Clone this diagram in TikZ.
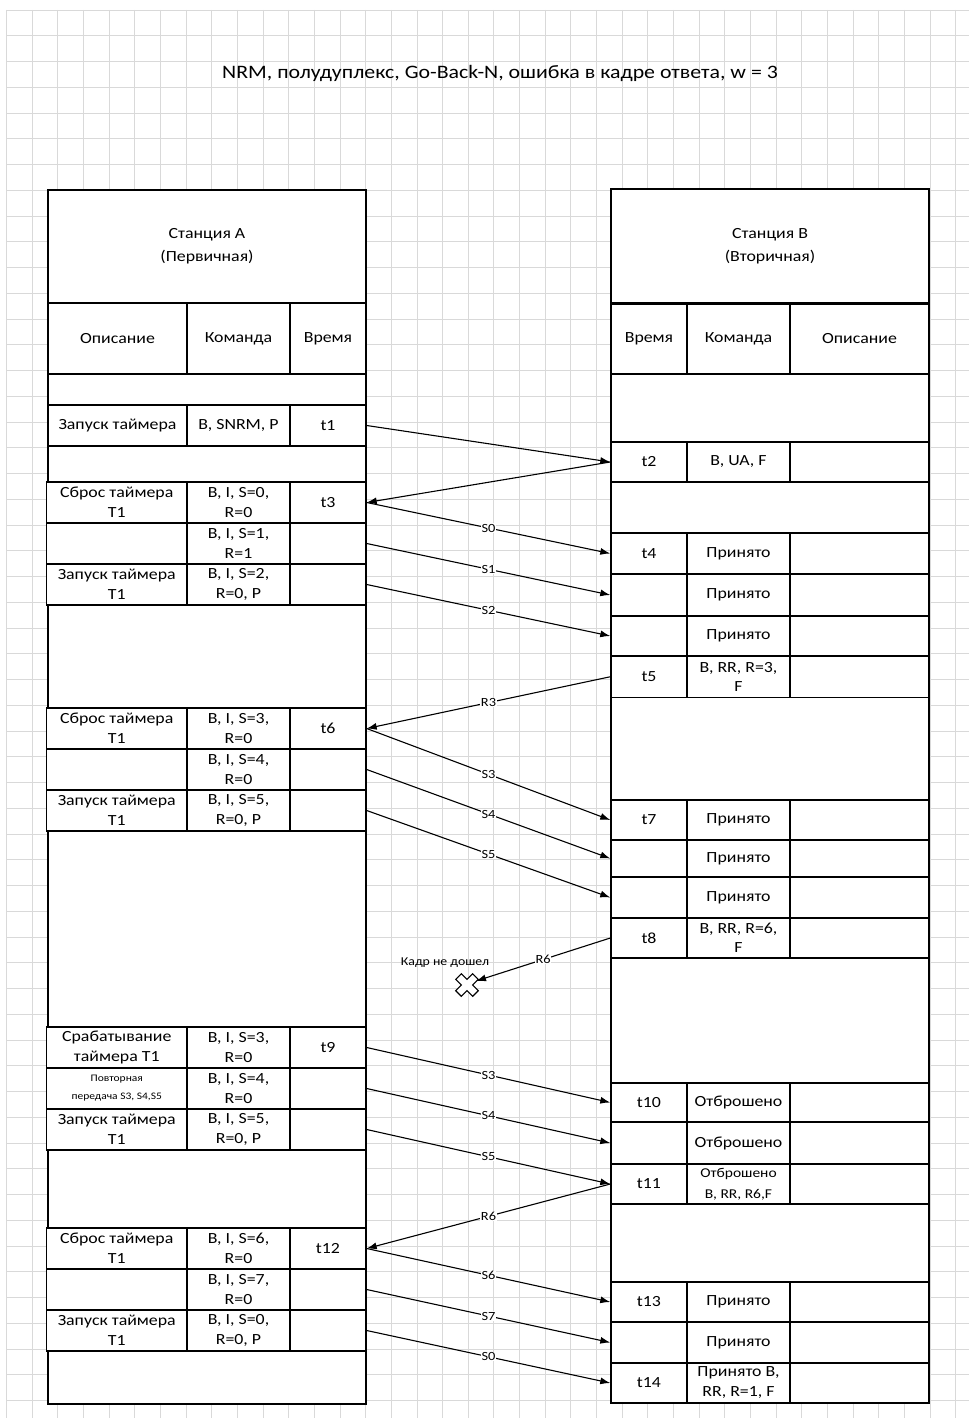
\documentclass[tikz,border=0pt]{standalone}
\usepackage{fontspec}
\setmainfont{Carlito}[FakeStretch=1.15]
\usetikzlibrary{arrows.meta}

\tikzset{
  gridline/.style={draw=black!15, line width=0.8pt},
  tablebox/.style={draw, fill=white, line width=1.4pt},
  cell/.style={draw, fill=white, line width=1.4pt, inner sep=0pt, align=center,
    minimum height=41pt, font=\fontsize{15.5}{20}\selectfont},
  dcell/.style={cell, minimum width=139pt},
  gdcell/.style={cell, minimum width=140.5pt},
  ccell/.style={cell, minimum width=103pt},
  tcell/.style={cell, minimum width=76pt},
  msg/.style={-{Latex[length=10pt,width=7pt]}, line width=1.1pt},
  tag/.style={fill=white, inner sep=0.6pt, font=\fontsize{12.5}{13}\selectfont},
}

\begin{document}
\begin{tikzpicture}[x=1pt, y=-1pt]
\useasboundingbox (0,0) rectangle (969,1420);

% background grid
\foreach \i in {0,...,37}
  \draw[gridline] ({6.5+25.65*\i},10) -- ({6.5+25.65*\i},1418);
\foreach \j in {0,...,54}
  \draw[gridline] (6.5,{10+25.75*\j}) -- (969,{10+25.75*\j});

\node[font=\fontsize{19}{21}\selectfont] (title) at (500,73)
  {NRM, полудуплекс, Go-Back-N, ошибка в кадре ответа, w = 3};

% station A
\draw[tablebox] (48,190) rectangle (366,1404);
\node[cell, minimum width=318pt, minimum height=113pt, font=\fontsize{15.5}{23}\selectfont]
  (stA) at (207,246.5) {Станция А\\(Первичная)};
\node[dcell, minimum height=71pt] (hdA) at (117.5,338.5) {Описание};
\node[ccell, minimum height=71pt] (hcA) at (238.5,338.5) {Команда};
\node[tcell, minimum height=71pt] (htA) at (328,338.5) {Время};

\node[dcell] (d1) at (117.5,425.5) {Запуск таймера};
\node[ccell] (c1) at (238.5,425.5) {B, SNRM, P};
\node[tcell] (t1) at (328,425.5) {t1};

\node[gdcell] (d3) at (116.75,502.5) {Сброс таймера\\T1};
\node[ccell] (c3) at (238.5,502.5) {B, I, S=0,\\R=0};
\node[tcell] (t3) at (328,502.5) {t3};
\node[gdcell] (d3b) at (116.75,543.5) {};
\node[ccell] (c3b) at (238.5,543.5) {B, I, S=1,\\R=1};
\node[tcell] (t3b) at (328,543.5) {};
\node[gdcell] (d3c) at (116.75,584.5) {Запуск таймера\\T1};
\node[ccell] (c3c) at (238.5,584.5) {B, I, S=2,\\R=0, P};
\node[tcell] (t3c) at (328,584.5) {};

\node[gdcell] (d6) at (116.75,728.5) {Сброс таймера\\T1};
\node[ccell] (c6) at (238.5,728.5) {B, I, S=3,\\R=0};
\node[tcell] (t6) at (328,728.5) {t6};
\node[gdcell] (d6b) at (116.75,769.5) {};
\node[ccell] (c6b) at (238.5,769.5) {B, I, S=4,\\R=0};
\node[tcell] (t6b) at (328,769.5) {};
\node[gdcell] (d6c) at (116.75,810.5) {Запуск таймера\\T1};
\node[ccell] (c6c) at (238.5,810.5) {B, I, S=5,\\R=0, P};
\node[tcell] (t6c) at (328,810.5) {};

\node[gdcell] (d9) at (116.75,1047.5) {Срабатывание\\таймера T1};
\node[ccell] (c9) at (238.5,1047.5) {B, I, S=3,\\R=0};
\node[tcell] (t9) at (328,1047.5) {t9};
\node[gdcell, font=\fontsize{10}{18}\selectfont] (d9b) at (116.75,1088.5) {Повторная\\передача S3, S4,S5};
\node[ccell] (c9b) at (238.5,1088.5) {B, I, S=4,\\R=0};
\node[tcell] (t9b) at (328,1088.5) {};
\node[gdcell] (d9c) at (116.75,1129.5) {Запуск таймера\\T1};
\node[ccell] (c9c) at (238.5,1129.5) {B, I, S=5,\\R=0, P};
\node[tcell] (t9c) at (328,1129.5) {};

\node[gdcell] (d12) at (116.75,1248.5) {Сброс таймера\\T1};
\node[ccell] (c12) at (238.5,1248.5) {B, I, S=6,\\R=0};
\node[tcell] (t12) at (328,1248.5) {t12};
\node[gdcell] (d12b) at (116.75,1289.5) {};
\node[ccell] (c12b) at (238.5,1289.5) {B, I, S=7,\\R=0};
\node[tcell] (t12b) at (328,1289.5) {};
\node[gdcell] (d12c) at (116.75,1330.5) {Запуск таймера\\T1};
\node[ccell] (c12c) at (238.5,1330.5) {B, I, S=0,\\R=0, P};
\node[tcell] (t12c) at (328,1330.5) {};

% station B
\draw[tablebox] (611,189) rectangle (929,1403);
\node[cell, minimum width=318pt, minimum height=114pt, font=\fontsize{15.5}{23}\selectfont]
  (stB) at (770,246) {Станция В\\(Вторичная)};
\node[tcell, minimum height=71pt] (htB) at (649,338.5) {Время};
\node[ccell, minimum height=71pt] (hcB) at (738.5,338.5) {Команда};
\node[dcell, minimum height=71pt] (hdB) at (859.5,338.5) {Описание};
\draw[line width=2.4pt] (stB.south west) -- (stB.south east);

\node[tcell, minimum height=40pt] (t2) at (649,462) {t2};
\node[ccell, minimum height=40pt] (k2) at (738.5,462) {B, UA, F};
\node[dcell, minimum height=40pt] (o2) at (859.5,462) {};

\node[tcell] (t4) at (649,553.5) {t4};
\node[ccell] (k4) at (738.5,553.5) {Принято};
\node[dcell] (o4) at (859.5,553.5) {};
\node[tcell, minimum height=42pt] (t4b) at (649,595) {};
\node[ccell, minimum height=42pt] (k4b) at (738.5,595) {Принято};
\node[dcell, minimum height=42pt] (o4b) at (859.5,595) {};
\node[tcell, minimum height=40pt] (t4c) at (649,636) {};
\node[ccell, minimum height=40pt] (k4c) at (738.5,636) {Принято};
\node[dcell, minimum height=40pt] (o4c) at (859.5,636) {};
\node[tcell, minimum height=41.5pt] (t5) at (649,676.75) {t5};
\node[ccell, minimum height=41.5pt, font=\fontsize{15.5}{19}\selectfont] (k5) at (738.5,676.75) {B, RR, R=3,\\F};
\node[dcell, minimum height=41.5pt] (o5) at (859.5,676.75) {};

\node[tcell, minimum height=40pt] (t7) at (649,820) {t7};
\node[ccell, minimum height=40pt] (k7) at (738.5,820) {Принято};
\node[dcell, minimum height=40pt] (o7) at (859.5,820) {};
\node[tcell, minimum height=37pt] (t7b) at (649,858.5) {};
\node[ccell, minimum height=37pt] (k7b) at (738.5,858.5) {Принято};
\node[dcell, minimum height=37pt] (o7b) at (859.5,858.5) {};
\node[tcell] (t7c) at (649,897.5) {};
\node[ccell] (k7c) at (738.5,897.5) {Принято};
\node[dcell] (o7c) at (859.5,897.5) {};
\node[tcell, minimum height=40pt] (t8) at (649,938) {t8};
\node[ccell, minimum height=40pt, font=\fontsize{15.5}{19}\selectfont] (k8) at (738.5,938) {B, RR, R=6,\\F};
\node[dcell, minimum height=40pt] (o8) at (859.5,938) {};

\node[tcell, minimum height=39pt] (t10) at (649,1102.5) {t10};
\node[ccell, minimum height=39pt] (k10) at (738.5,1102.5) {Отброшено};
\node[dcell, minimum height=39pt] (o10) at (859.5,1102.5) {};
\node[tcell, minimum height=42pt] (t10b) at (649,1143) {};
\node[ccell, minimum height=42pt] (k10b) at (738.5,1143) {Отброшено};
\node[dcell, minimum height=42pt] (o10b) at (859.5,1143) {};
\node[tcell, minimum height=40pt] (t11) at (649,1184) {t11};
\node[ccell, minimum height=40pt, font=\fontsize{13.5}{21}\selectfont] (k11) at (738.5,1184) {Отброшено\\B, RR, R6,F};
\node[dcell, minimum height=40pt] (o11) at (859.5,1184) {};

\node[tcell, minimum height=40pt] (t13) at (649,1302) {t13};
\node[ccell, minimum height=40pt] (k13) at (738.5,1302) {Принято};
\node[dcell, minimum height=40pt] (o13) at (859.5,1302) {};
\node[tcell] (t13b) at (649,1342.5) {};
\node[ccell] (k13b) at (738.5,1342.5) {Принято};
\node[dcell] (o13b) at (859.5,1342.5) {};
\node[tcell, minimum height=40pt] (t14) at (649,1383) {t14};
\node[ccell, minimum height=40pt] (k14) at (738.5,1383) {Принято B,\\RR, R=1, F};
\node[dcell, minimum height=40pt] (o14) at (859.5,1383) {};

% lost frame
\begin{scope}[shift={(467,985)}, rotate=45]
  \draw[fill=white, line width=1.1pt] (4,12) -- (4,4) -- (12,4) -- (12,-4) -- (4,-4) -- (4,-12)
    -- (-4,-12) -- (-4,-4) -- (-12,-4) -- (-12,4) -- (-4,4) -- (-4,12) -- cycle;
\end{scope}
\coordinate (lost) at (476,981);
\node[font=\fontsize{12}{13}\selectfont] (lostnote) at (445,963) {Кадр не дошел};

% messages
\draw[msg] (t1.east) -- (t2.west);
\draw[msg] (t2.west) -- (t3.east);
\draw[msg] (t3.east) -- node[tag] {S0} (t4.west);
\draw[msg] (t3b.east) -- node[tag] {S1} (t4b.west);
\draw[msg] (t3c.east) -- node[tag] {S2} (t4c.west);
\draw[msg] (t5.west) -- node[tag] {R3} (t6.east);
\draw[msg] (t6.east) -- node[tag] {S3} (t7.west);
\draw[msg] (t6b.east) -- node[tag] {S4} (t7b.west);
\draw[msg] (t6c.east) -- node[tag] {S5} (t7c.west);
\draw[msg] (t8.west) -- node[tag] {R6} (lost);
\draw[msg] (t9.east) -- node[tag] {S3} (t10.west);
\draw[msg] (t9b.east) -- node[tag] {S4} (t10b.west);
\draw[msg] (t9c.east) -- node[tag] {S5} (t11.west);
\draw[msg] (t11.west) -- node[tag] {R6} (t12.east);
\draw[msg] (t12.east) -- node[tag] {S6} (t13.west);
\draw[msg] (t12b.east) -- node[tag] {S7} (t13b.west);
\draw[msg] (t12c.east) -- node[tag] {S0} (t14.west);
\end{tikzpicture}
\end{document}
